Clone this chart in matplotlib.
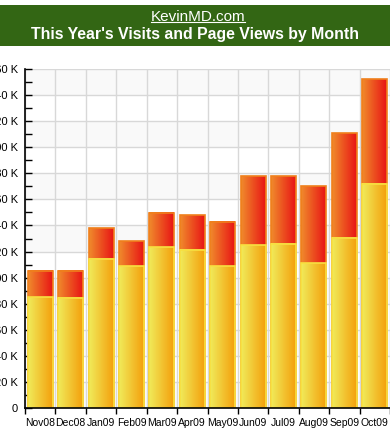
import numpy as np
import matplotlib
matplotlib.use("Agg")
import matplotlib.pyplot as plt
from matplotlib.patches import Rectangle
from matplotlib.lines import Line2D

plt.rcParams['font.family'] = ['Liberation Sans', 'DejaVu Sans']

months = ["Nov08", "Dec08", "Jan09", "Feb09", "Mar09", "Apr09",
          "May09", "Jun09", "Jul09", "Aug09", "Sep09", "Oct09"]
# values in thousands
page_views = [105.1, 105.1, 137.8, 127.8, 149.6, 148.0,
              142.7, 177.7, 177.7, 170.0, 210.7, 252.1]
visits = [85.1, 84.4, 114.3, 108.9, 123.2, 121.2,
          108.9, 125.0, 125.8, 111.2, 130.4, 171.8]
y_ticks = list(range(0, 261, 20))

W, H = 390, 428
fig = plt.figure(figsize=(W / 100, H / 100), dpi=100)

# green header band
fig.patches.append(Rectangle((0, 1 - 45.5 / H), 1, 40.5 / H, transform=fig.transFigure,
                             facecolor="#336614", edgecolor="none", zorder=0))
t1 = fig.text(0.508, 1 - 17 / H, "KevinMD.com", color="white", fontsize=11,
              ha="center", va="center")
fig.text(0.5, 1 - 34.5 / H, "This Year's Visits and Page Views by Month", color="white",
         fontsize=11.4, fontweight="bold", ha="center", va="center")

ax = fig.add_axes([25 / W, 20 / H, 1 - 25 / W, 339 / H])
n = len(months)
x = np.arange(n)

# alternating background bands
for lo in y_ticks[:-1:2]:
    ax.axhspan(lo, lo + 20, color="#f9f9f9", zorder=0, lw=0)
for v in y_ticks:
    ax.axhline(v, color="#d8d8d8", lw=1, zorder=1)
for b in np.arange(-0.5, n, 1.0):
    ax.axvline(b, color="#d8d8d8", lw=1, zorder=1)

red_grad = matplotlib.colors.LinearSegmentedColormap.from_list("r", ["#f08a2c", "#e81414"])
yel_grad = matplotlib.colors.LinearSegmentedColormap.from_list("y", ["#f0ea5a", "#f4a00c"])
grad = np.linspace(0, 1, 64).reshape(1, -1)

width = 0.82
pv_bars = ax.bar(x, page_views, width, facecolor="none", edgecolor="#f0801c", lw=1.2, zorder=4)
vi_bars = ax.bar(x, visits, width, facecolor="none", edgecolor="#f8e040", lw=1.2, zorder=6)
for bars, cmap, z in ((pv_bars, red_grad, 3), (vi_bars, yel_grad, 5)):
    for r in bars:
        x0, y0, w, h = r.get_x(), r.get_y(), r.get_width(), r.get_height()
        ax.imshow(grad, cmap=cmap, extent=(x0, x0 + w, y0, y0 + h),
                  aspect="auto", zorder=z, interpolation="bilinear")
ax.set_xlim(-0.5, n - 0.5)
ax.set_ylim(0, 260)

for s in ("top", "right"):
    ax.spines[s].set_visible(False)
ax.spines["left"].set_linewidth(1.2)
ax.spines["bottom"].set_linewidth(1.2)
ax.spines["left"].set_zorder(7)
ax.spines["bottom"].set_zorder(7)

ax.set_yticks(y_ticks)
ax.set_yticks(range(10, 260, 20), minor=True)
ax.set_yticklabels(["0"] + [f"{v} K" for v in y_ticks[1:]], fontsize=8)
ax.tick_params(axis="y", which="both", direction="in", length=5, width=1, pad=5)

ax.set_xticks(np.arange(-0.5, n, 1.0))
ax.set_xticklabels([])
ax.set_xticks(x, minor=True)
ax.set_xticklabels(months, minor=True, fontsize=7.5)
ax.tick_params(axis="x", which="major", direction="out", length=4, width=1)
ax.tick_params(axis="x", which="minor", length=0, pad=7)

# underline for the site name
fig.canvas.draw()
bb = t1.get_window_extent().transformed(fig.transFigure.inverted())
fig.lines.append(Line2D([bb.x0, bb.x1], [bb.y0 + 0.004, bb.y0 + 0.004], transform=fig.transFigure,
                        color="white", lw=0.8))

fig.savefig("out.png", dpi=100)
